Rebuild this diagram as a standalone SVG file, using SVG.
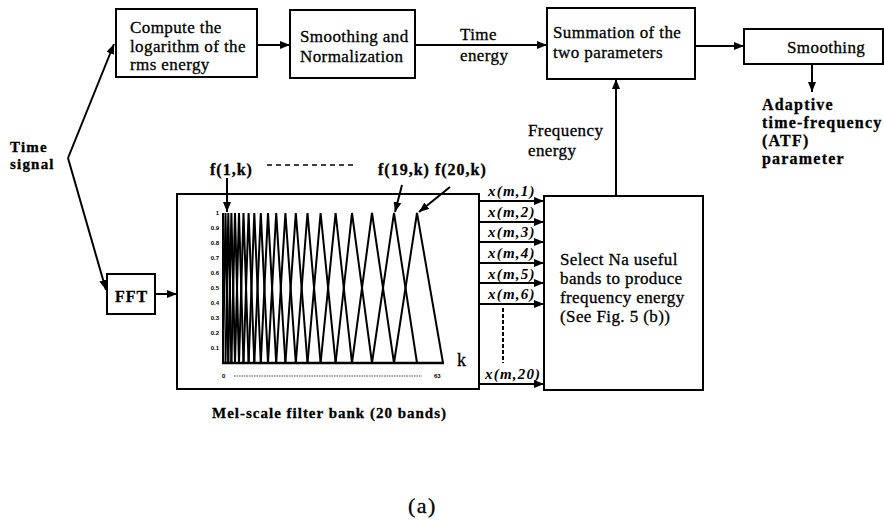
<svg xmlns="http://www.w3.org/2000/svg" width="884" height="521" viewBox="0 0 884 521">
<defs>
<style>
.box{fill:#fff;stroke:#000;stroke-width:2}
.t{font-family:"Liberation Serif","Times New Roman",serif;font-size:17px;letter-spacing:0.4px;fill:#000;stroke:#000;stroke-width:0.3px}
.b{font-weight:bold;letter-spacing:1.2px}
.lab{font-family:"Liberation Serif","Times New Roman",serif;font-size:15px;font-weight:bold;font-style:italic;letter-spacing:1.2px;fill:#000}
.tick{font-family:"Liberation Sans",Arial,sans-serif;font-size:6px;font-weight:bold;fill:#000}
.ln{fill:none;stroke:#000;stroke-width:2}
.tri{fill:none;stroke:#000;stroke-width:2;stroke-linejoin:miter}
</style>
<marker id="ah" viewBox="0 0 10 8" refX="10" refY="4" markerWidth="10" markerHeight="8" orient="auto" markerUnits="userSpaceOnUse"><path d="M0,0 L10,4 L0,8 z" fill="#000"/></marker>
</defs>
<rect width="884" height="521" fill="#fff"/>

<g id="time-signal">
<text class="t b" x="10" y="152" style="font-size:15px">Time</text>
<text class="t b" x="10" y="169" style="font-size:15px">signal</text>
</g>

<g id="log-rms">
<rect class="box" x="116" y="9" width="141" height="68"/>
<text class="t" x="130" y="33">Compute the</text>
<text class="t" x="130" y="52">logarithm of the</text>
<text class="t" x="130" y="70">rms energy</text>
</g>

<g id="smooth-norm">
<rect class="box" x="290" y="10" width="125" height="68"/>
<text class="t" x="300" y="42">Smoothing and</text>
<text class="t" x="300" y="62">Normalization</text>
</g>

<g id="time-energy-label">
<text class="t" x="460" y="40">Time</text>
<text class="t" x="460" y="61">energy</text>
</g>

<g id="summation">
<rect class="box" x="547" y="8" width="148" height="71"/>
<text class="t" x="553" y="38">Summation of the</text>
<text class="t" x="553" y="58">two parameters</text>
</g>

<g id="smoothing">
<rect class="box" x="744" y="29" width="139" height="35"/>
<text class="t" x="787" y="53">Smoothing</text>
</g>

<g id="atf">
<text class="t b" x="762" y="110" style="font-size:16px">Adaptive</text>
<text class="t b" x="762" y="128" style="font-size:16px">time-frequency</text>
<text class="t b" x="762" y="146" style="font-size:16px">(ATF)</text>
<text class="t b" x="762" y="164" style="font-size:16px">parameter</text>
</g>

<g id="freq-energy-label">
<text class="t" x="528" y="136">Frequency</text>
<text class="t" x="528" y="156">energy</text>
</g>

<g id="fft">
<rect class="box" x="107" y="274" width="48" height="40"/>
<text class="t b" x="115" y="302" style="font-size:16px;letter-spacing:1px">FFT</text>
</g>

<g id="filter-bank">
<rect class="box" x="177" y="194" width="302" height="195"/>
<g id="filters">
<polyline class="tri" points="223,363 225.5,213 228.3,363"/>
<polyline class="tri" points="225.5,363 228.3,213 231.4,363"/>
<polyline class="tri" points="228.3,363 231.4,213 235,363"/>
<polyline class="tri" points="231.4,363 235,213 239,363"/>
<polyline class="tri" points="235,363 239,213 243.5,363"/>
<polyline class="tri" points="239,363 243.5,213 248.6,363"/>
<polyline class="tri" points="243.5,363 248.6,213 254.3,363"/>
<polyline class="tri" points="248.6,363 254.3,213 260.8,363"/>
<polyline class="tri" points="254.3,363 260.8,213 268,363"/>
<polyline class="tri" points="260.8,363 268,213 276.2,363"/>
<polyline class="tri" points="268,363 276.2,213 285.4,363"/>
<polyline class="tri" points="276.2,363 285.4,213 295.8,363"/>
<polyline class="tri" points="285.4,363 295.8,213 307.5,363"/>
<polyline class="tri" points="295.8,363 307.5,213 320.6,363"/>
<polyline class="tri" points="307.5,363 320.6,213 335.6,363"/>
<polyline class="tri" points="320.6,363 335.6,213 352,363"/>
<polyline class="tri" points="335.6,363 352,213 372,363"/>
<polyline class="tri" points="352,363 372,213 394,363"/>
<polyline class="tri" points="372,363 394,213 417,363"/>
<polyline class="tri" points="394,363 417,213 443,363"/>
</g>
<line x1="223" y1="213" x2="223" y2="363" stroke="#000" stroke-width="2"/>
<line x1="222" y1="363" x2="444" y2="363" stroke="#000" stroke-width="2.5"/>
<line x1="234" y1="376" x2="422" y2="376" stroke="#444" stroke-width="1" stroke-dasharray="1.5,1"/>
<g id="ticks">
<text class="tick" x="219" y="215" text-anchor="end">1</text>
<text class="tick" x="219" y="230" text-anchor="end">0.9</text>
<text class="tick" x="219" y="245" text-anchor="end">0.8</text>
<text class="tick" x="219" y="260" text-anchor="end">0.7</text>
<text class="tick" x="219" y="275" text-anchor="end">0.6</text>
<text class="tick" x="219" y="290" text-anchor="end">0.5</text>
<text class="tick" x="219" y="305" text-anchor="end">0.4</text>
<text class="tick" x="219" y="320" text-anchor="end">0.3</text>
<text class="tick" x="219" y="335" text-anchor="end">0.2</text>
<text class="tick" x="219" y="350" text-anchor="end">0.1</text>
<text class="tick" x="222" y="378">0</text>
<text class="tick" x="434" y="378">63</text>
</g>
<text class="t" x="457" y="366" style="font-size:18px">k</text>
<text class="t b" x="212" y="418" style="font-size:15px;letter-spacing:1px">Mel-scale filter bank (20 bands)</text>
<text class="t b" x="210" y="175" style="font-size:16px;letter-spacing:1px">f(1,k)</text>
<line x1="267" y1="165" x2="357" y2="165" stroke="#000" stroke-width="1.5" stroke-dasharray="5,4"/>
<text class="t b" x="378" y="175" style="font-size:16px;letter-spacing:1px">f(19,k) f(20,k)</text>
</g>

<g id="select-bands">
<rect class="box" x="544" y="196" width="159" height="194"/>
<text class="t" x="560" y="265">Select Na useful</text>
<text class="t" x="560" y="284">bands to produce</text>
<text class="t" x="560" y="303">frequency energy</text>
<text class="t" x="560" y="322">(See Fig. 5 (b))</text>
</g>

<g id="band-labels">
<text class="lab" x="488" y="196">x(m,1)</text>
<text class="lab" x="488" y="217">x(m,2)</text>
<text class="lab" x="488" y="237">x(m,3)</text>
<text class="lab" x="488" y="258">x(m,4)</text>
<text class="lab" x="488" y="279">x(m,5)</text>
<text class="lab" x="488" y="299">x(m,6)</text>
<text class="lab" x="485" y="379">x(m,20)</text>
</g>

<g id="connectors">
<path class="ln" d="M68,158 L114,44" marker-end="url(#ah)"/>
<path class="ln" d="M68,158 L106,290" marker-end="url(#ah)"/>
<line class="ln" x1="257" y1="45" x2="290" y2="45" marker-end="url(#ah)"/>
<line class="ln" x1="415" y1="45" x2="547" y2="45" marker-end="url(#ah)"/>
<line class="ln" x1="695" y1="46" x2="744" y2="46" marker-end="url(#ah)"/>
<line class="ln" x1="812" y1="64" x2="812" y2="92" marker-end="url(#ah)"/>
<line class="ln" x1="616" y1="196" x2="616" y2="79" marker-end="url(#ah)"/>
<line class="ln" x1="155" y1="294" x2="177" y2="294" marker-end="url(#ah)"/>
<line class="ln" x1="227" y1="178" x2="227" y2="212" marker-end="url(#ah)"/>
<line class="ln" x1="402" y1="185" x2="395" y2="212" marker-end="url(#ah)"/>
<line class="ln" x1="450" y1="187" x2="419" y2="212" marker-end="url(#ah)"/>
<line class="ln" x1="479" y1="201" x2="544" y2="201" marker-end="url(#ah)"/>
<line class="ln" x1="479" y1="222" x2="544" y2="222" marker-end="url(#ah)"/>
<line class="ln" x1="479" y1="242" x2="544" y2="242" marker-end="url(#ah)"/>
<line class="ln" x1="479" y1="263" x2="544" y2="263" marker-end="url(#ah)"/>
<line class="ln" x1="479" y1="283" x2="544" y2="283" marker-end="url(#ah)"/>
<line class="ln" x1="479" y1="304" x2="544" y2="304" marker-end="url(#ah)"/>
<line class="ln" x1="479" y1="384" x2="544" y2="384" marker-end="url(#ah)"/>
<line x1="503" y1="308" x2="503" y2="363" stroke="#000" stroke-width="2" stroke-dasharray="4,2"/>
</g>

<text class="t" x="408" y="513" style="font-size:22px;letter-spacing:1.5px">(a)</text>
</svg>
